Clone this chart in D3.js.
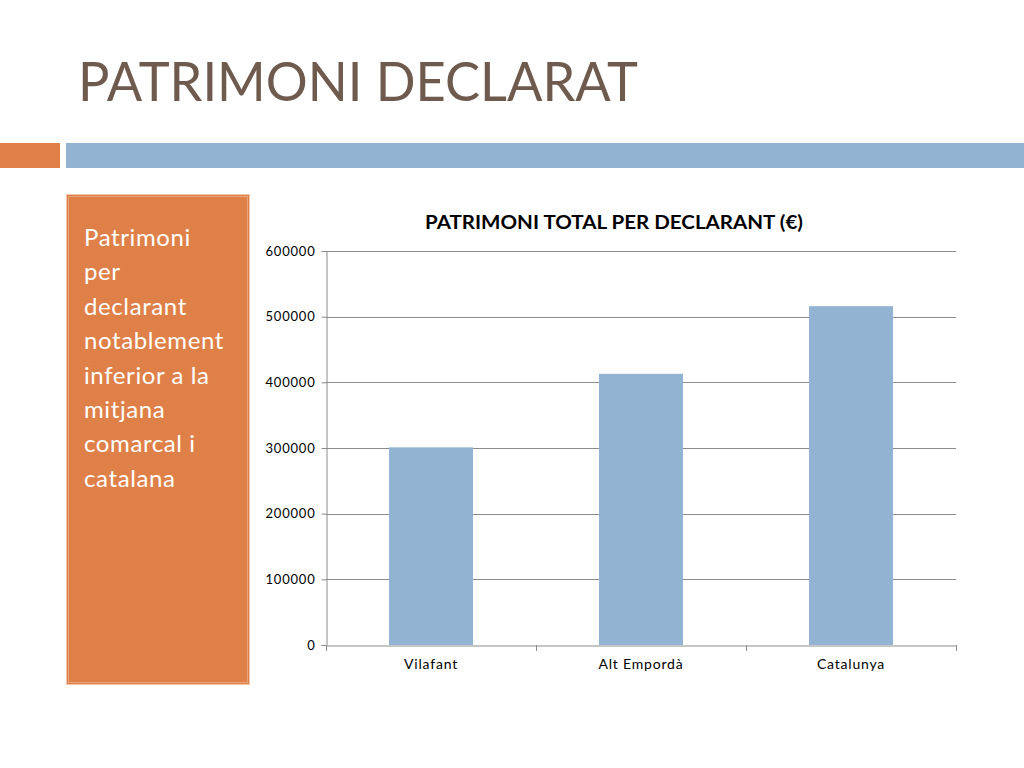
<!DOCTYPE html>
<html>
  <head>
    <meta charset="utf-8" />
    <script src="https://cdn.jsdelivr.net/npm/d3@7"></script>
    <style>
      body { margin: 0; background: #fff; }
      svg text { font-family: Lato, "Open Sans", sans-serif; }
    </style>
  </head>
  <body>
    <div id="container"></div>
    <script>
      const slideTitle = "PATRIMONI DECLARAT";
      const chartTitle = "PATRIMONI TOTAL PER DECLARANT (€)";
      const noteLines = [
        "Patrimoni",
        "per",
        "declarant",
        "notablement",
        "inferior a la",
        "mitjana",
        "comarcal i",
        "catalana",
      ];
      const categories = ["Vilafant", "Alt Empordà", "Catalunya"];
      const values = [301000, 413000, 516000];
      const yTicks = [0, 100000, 200000, 300000, 400000, 500000, 600000];

      const w = 1024;
      const h = 768;

      const svg = d3
        .select("#container")
        .append("svg")
        .attr("width", w)
        .attr("height", h);

      // slide title
      svg
        .append("text")
        .attr("x", 78)
        .attr("y", 101)
        .attr("textLength", 560)
        .attr("lengthAdjust", "spacingAndGlyphs")
        .style("font-size", "54px")
        .style("fill", "#6f5a4e")
        .text(slideTitle);

      // header bars
      svg.append("rect").attr("x", 0).attr("y", 143).attr("width", 60).attr("height", 25).attr("fill", "#df8048");
      svg.append("rect").attr("x", 66).attr("y", 143).attr("width", 958).attr("height", 25).attr("fill", "#93b3d2");

      // orange side box
      svg
        .append("rect")
        .attr("x", 66.5)
        .attr("y", 194.5)
        .attr("width", 183)
        .attr("height", 490)
        .attr("fill", "#df8048")
        .attr("stroke", "#f4c6ab")
        .attr("stroke-width", 1);
      svg
        .append("rect")
        .attr("x", 68.5)
        .attr("y", 196.5)
        .attr("width", 179)
        .attr("height", 486)
        .attr("fill", "none")
        .attr("stroke", "#e9a47a")
        .attr("stroke-width", 1);

      svg
        .append("g")
        .selectAll("text")
        .data(noteLines)
        .enter()
        .append("text")
        .attr("x", 84)
        .attr("y", (d, i) => 246 + i * 34.4)
        .style("font-size", "24px")
        .style("letter-spacing", "0.6px")
        .style("fill", "#ffffff")
        .text((d) => d);

      // chart
      const plot = { left: 326, right: 956, top: 251, bottom: 645 };

      const x = d3
        .scaleBand()
        .domain(categories)
        .range([plot.left, plot.right])
        .padding(0);

      const y = d3
        .scaleLinear()
        .domain([0, 600000])
        .range([plot.bottom, plot.top]);

      svg
        .append("text")
        .attr("x", 425)
        .attr("y", 229)
        .attr("textLength", 378)
        .attr("lengthAdjust", "spacingAndGlyphs")
        .style("font-size", "18px")
        .style("font-weight", "bold")
        .style("fill", "#000")
        .text(chartTitle);

      // gridlines
      svg
        .append("g")
        .selectAll("line")
        .data(yTicks.filter((d) => d > 0))
        .enter()
        .append("line")
        .attr("x1", plot.left)
        .attr("x2", plot.right)
        .attr("y1", (d) => Math.round(y(d)) + 0.5)
        .attr("y2", (d) => Math.round(y(d)) + 0.5)
        .attr("stroke", "#8c8c8c")
        .attr("stroke-width", 1);

      // bars
      const barW = x.bandwidth() * 0.4;
      svg
        .append("g")
        .selectAll("rect")
        .data(values)
        .enter()
        .append("rect")
        .attr("x", (d, i) => x(categories[i]) + (x.bandwidth() - barW) / 2)
        .attr("y", (d) => y(d))
        .attr("width", barW)
        .attr("height", (d) => y(0) - y(d))
        .attr("fill", "#93b3d2");

      // y axis
      const yAxis = svg
        .append("g")
        .attr("transform", `translate(${plot.left + 0.5},0)`)
        .call(d3.axisLeft(y).tickValues(yTicks).tickFormat(d3.format("d")).tickSize(5).tickPadding(6));
      yAxis.select(".domain").attr("stroke", "#8c8c8c");
      yAxis.selectAll(".tick line").attr("stroke", "#8c8c8c");
      yAxis
        .selectAll(".tick text")
        .style("font-size", "13px")
        .style("letter-spacing", "0.8px")
        .style("fill", "#000")
        .style("font-family", "Lato, sans-serif");

      // x axis
      const xAxis = svg
        .append("g")
        .attr("transform", `translate(0,${plot.bottom + 0.5})`)
        .call(d3.axisBottom(x).tickSize(0).tickPadding(14));
      xAxis.select(".domain").attr("stroke", "#8c8c8c");
      xAxis
        .selectAll(".tick text")
        .style("font-size", "14px")
        .style("letter-spacing", "0.8px")
        .style("fill", "#000")
        .style("font-family", "Lato, sans-serif");

      // category separators
      svg
        .append("g")
        .selectAll("line")
        .data(categories.concat([null]))
        .enter()
        .append("line")
        .attr("x1", (d, i) => Math.round(plot.left + i * x.step()) + 0.5)
        .attr("x2", (d, i) => Math.round(plot.left + i * x.step()) + 0.5)
        .attr("y1", plot.bottom)
        .attr("y2", plot.bottom + 6)
        .attr("stroke", "#8c8c8c");
    </script>
  </body>
</html>
